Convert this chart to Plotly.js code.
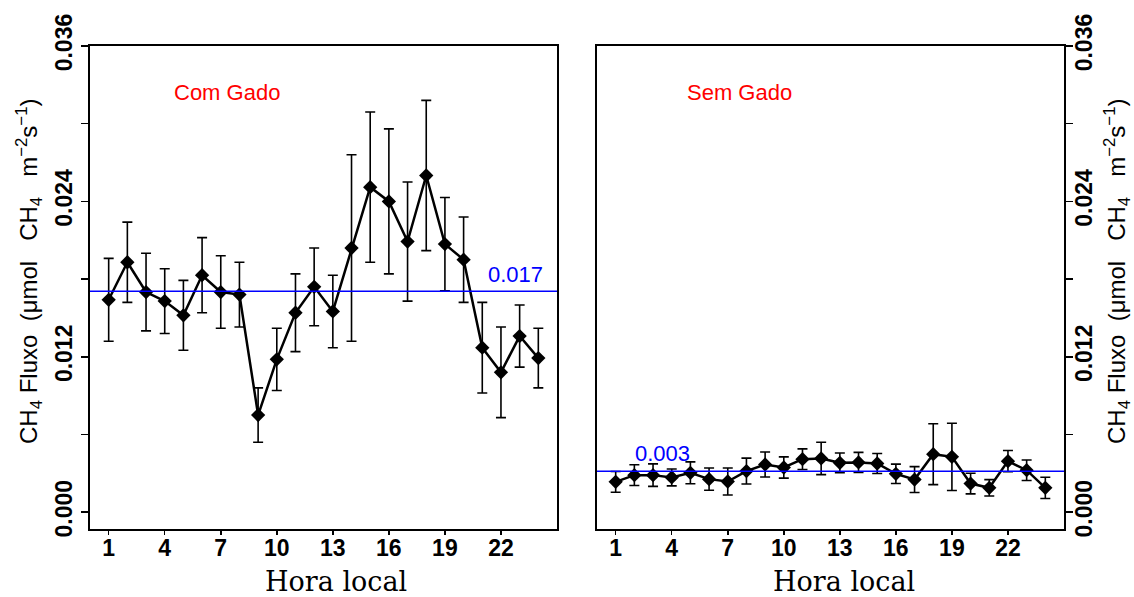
<!DOCTYPE html>
<html>
<head>
<meta charset="utf-8">
<script src="https://cdn.plot.ly/plotly-3.0.1.min.js"></script>
<style>
  html, body { margin: 0; padding: 0; background: #ffffff; }
  #chart { width: 1134px; height: 597px; }
</style>
</head>
<body>
<div id="chart"></div>
<script>
// Hourly CH4 flux (mean ± error) for the two pasture treatments
const hours = [1, 2, 3, 4, 5, 6, 7, 8, 9, 10, 11, 12, 13, 14, 15, 16, 17, 18, 19, 20, 21, 22, 23, 24];

const comGadoFlux = [0.0164, 0.0193, 0.0170, 0.0163, 0.0152, 0.0183, 0.0170, 0.0168,
                     0.0075, 0.0118, 0.0154, 0.0174, 0.0155, 0.0204, 0.0251, 0.0240,
                     0.0209, 0.0260, 0.0207, 0.0195, 0.0127, 0.0108, 0.0136, 0.0119];
const comGadoErr  = [0.0032, 0.0031, 0.0030, 0.0025, 0.0027, 0.0029, 0.0028, 0.0025,
                     0.0021, 0.0024, 0.0030, 0.0030, 0.0028, 0.0072, 0.0058, 0.0056,
                     0.0046, 0.0058, 0.0036, 0.0033, 0.0035, 0.0035, 0.0024, 0.0023];

const semGadoFlux = [0.00234, 0.00286, 0.00286, 0.00268, 0.00304, 0.00255, 0.00237, 0.00317,
                     0.00368, 0.00345, 0.00409, 0.00415, 0.00381, 0.00384, 0.00376, 0.00296,
                     0.00252, 0.00448, 0.00427, 0.00221, 0.00188, 0.00394, 0.00324, 0.00188];
const semGadoErr  = [0.00080, 0.00080, 0.00087, 0.00065, 0.00084, 0.00086, 0.00104, 0.00100,
                     0.00097, 0.00082, 0.00080, 0.00125, 0.00076, 0.00078, 0.00077, 0.00075,
                     0.00100, 0.00235, 0.00260, 0.00080, 0.00063, 0.00082, 0.00079, 0.00082];

const panelLabels = ["Com Gado", "Sem Gado"];
const xTickVals = [1, 4, 7, 10, 13, 16, 19, 22];
const yTickVals = [0, 0.012, 0.024, 0.036];
const yMinorVals = [0.006, 0.018, 0.030];
const xTitle = "Hora local";
const sp2 = "\u00a0\u00a0";
const sp3 = "\u00a0\u00a0\u00a0";
const yTitle = "CH<sub>4</sub> Fluxo" + sp2 + "(\u03bcmol" + sp3 + "CH<sub>4</sub>" + sp3 +
               "m<sup>\u22122</sup>s<sup>\u22121</sup>)";

const mean = arr => arr.reduce((a, b) => a + b, 0) / arr.length;
const comMean = mean(comGadoFlux);
const semMean = mean(semGadoFlux);

const tickFont = { family: "Liberation Sans, Arial, sans-serif", size: 23, color: "#000", weight: 700 };

function series(y, err, xa, ya) {
  return {
    x: hours, y: y, xaxis: xa, yaxis: ya,
    type: "scatter", mode: "lines+markers",
    line: { color: "#000", width: 2.5 },
    marker: { symbol: "diamond", size: 11, color: "#000" },
    error_y: { type: "data", array: err, visible: true, color: "#000", thickness: 1.6, width: 5 },
    hoverinfo: "x+y"
  };
}

const data = [
  series(comGadoFlux, comGadoErr, "x", "y"),
  series(semGadoFlux, semGadoErr, "x2", "y2")
];

const xBase = {
  range: [0, 25], tickmode: "array", tickvals: xTickVals,
  ticks: "outside", ticklen: 4, tickwidth: 1.5, tickcolor: "#000", ticklabelstandoff: -7,
  showline: true, mirror: true, linewidth: 2, linecolor: "#000",
  showgrid: false, zeroline: false, tickfont: tickFont
};
const yBase = {
  range: [-0.0013, 0.036], tickmode: "array", tickvals: yTickVals, tickformat: ".3f",
  ticks: "outside", ticklen: 7, tickwidth: 1.5, tickcolor: "#000", tickangle: -90,
  minor: { tickmode: "array", tickvals: yMinorVals, ticks: "outside", ticklen: 7,
           tickwidth: 1.5, tickcolor: "#000", showgrid: false },
  showline: true, mirror: true, linewidth: 2, linecolor: "#000",
  showgrid: false, zeroline: false, tickfont: tickFont
};

// paper-coordinate helpers for the 1134x597 canvas with the margins below
const M = { l: 90, r: 70, t: 46, b: 68 };
const PW = 1134 - M.l - M.r, PH = 597 - M.t - M.b;
const px = v => (v - M.l) / PW;
const py = v => (597 - M.b - v) / PH;

const titleFont = { family: "Liberation Sans, Arial, sans-serif", size: 24, color: "#000" };
const serifFont = { family: "DejaVu Serif, Liberation Serif, serif", size: 27, color: "#000" };
const redFont = { family: "Liberation Sans, Arial, sans-serif", size: 22, color: "#ff0000" };
const blueFont = { family: "Liberation Sans, Arial, sans-serif", size: 22, color: "#0000ff" };

const layout = {
  width: 1134, height: 597,
  margin: M,
  paper_bgcolor: "#fff", plot_bgcolor: "#fff",
  showlegend: false,
  xaxis: Object.assign({}, xBase, { domain: [0, 467 / PW], anchor: "y" }),
  xaxis2: Object.assign({}, xBase, { domain: [507 / PW, 1], anchor: "y2" }),
  yaxis: Object.assign({}, yBase, { anchor: "x", side: "left", ticklabelstandoff: 0 }),
  yaxis2: Object.assign({}, yBase, { anchor: "x2", side: "right", ticklabelstandoff: -9 }),
  shapes: [
    { type: "line", xref: "x domain", x0: 0, x1: 1, yref: "y", y0: comMean, y1: comMean,
      line: { color: "#0000ff", width: 1.5 } },
    { type: "line", xref: "x2 domain", x0: 0, x1: 1, yref: "y2", y0: semMean, y1: semMean,
      line: { color: "#0000ff", width: 1.5 } }
  ],
  annotations: [
    { xref: "x", yref: "y", x: 7.36, y: 0.0324, text: panelLabels[0], showarrow: false,
      font: redFont, xanchor: "center", yanchor: "middle" },
    { xref: "x2", yref: "y2", x: 7.63, y: 0.0324, text: panelLabels[1], showarrow: false,
      font: redFont, xanchor: "center", yanchor: "middle" },
    { xref: "x", yref: "y", x: 22.78, y: comMean, text: comMean.toFixed(3), showarrow: false,
      font: blueFont, xanchor: "center", yanchor: "bottom", yshift: 2 },
    { xref: "x2", yref: "y2", x: 3.53, y: semMean, text: semMean.toFixed(3), showarrow: false,
      font: blueFont, xanchor: "center", yanchor: "bottom", yshift: 3 },
    { xref: "paper", yref: "paper", x: px(336), y: py(581), text: xTitle, showarrow: false,
      font: serifFont, xanchor: "center", yanchor: "middle" },
    { xref: "paper", yref: "paper", x: px(844), y: py(581), text: xTitle, showarrow: false,
      font: serifFont, xanchor: "center", yanchor: "middle" },
    { xref: "paper", yref: "paper", x: px(29), y: py(271), text: yTitle, showarrow: false,
      font: titleFont, textangle: -90, xanchor: "center", yanchor: "middle" },
    { xref: "paper", yref: "paper", x: px(1117), y: py(271), text: yTitle, showarrow: false,
      font: titleFont, textangle: -90, xanchor: "center", yanchor: "middle" }
  ]
};

Plotly.newPlot("chart", data, layout, { displayModeBar: false, staticPlot: true });
</script>
</body>
</html>
